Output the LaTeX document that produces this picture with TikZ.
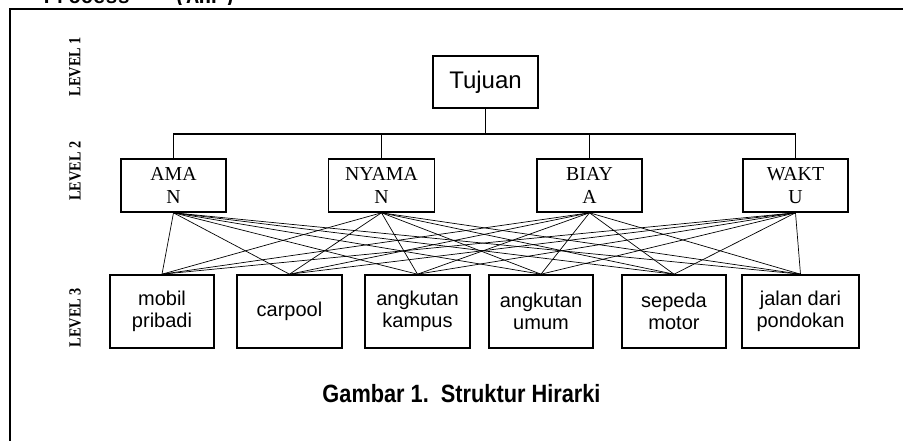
\documentclass[tikz,border=0pt]{standalone}
\usepackage{fontspec}
\setmainfont{Liberation Serif}
\newfontfamily\arialf{Liberation Sans}
\newfontfamily\monof{Liberation Mono}
\begin{document}
\begin{tikzpicture}[x=1pt,y=-1pt,
  l1box/.style={draw,line width=1.6pt,inner sep=0pt,minimum width=105pt,minimum height=52pt,
    font=\arialf\fontsize{24}{26}\selectfont},
  l2box/.style={draw,line width=1.6pt,inner sep=0pt,minimum width=105pt,minimum height=53pt,align=center,
    font=\fontsize{19.8}{22.5}\selectfont},
  l3box/.style={draw,line width=1.6pt,inner sep=0pt,minimum width=104pt,minimum height=73pt,align=center,
    font=\arialf\fontsize{20}{22}\selectfont},
  lvl/.style={rotate=90,inner sep=0pt,font=\bfseries\fontsize{17}{17}\selectfont},
  bus/.style={line width=1.2pt},
  link/.style={line width=0.7pt}]
\useasboundingbox (0,0) rectangle (903,441);
% cropped heading fragment
\begin{scope}
\clip (-5,-5) rectangle (910,4.5);
\node[anchor=base,inner sep=0pt,font=\monof\bfseries\fontsize{20.5}{20}\selectfont] (hd1) at (-3,3.8) {)};
\node[anchor=base,inner sep=0pt,font=\monof\bfseries\fontsize{20.5}{20}\selectfont] (hd2) at (87,3.8) {Process};
\node[anchor=base,inner sep=0pt,font=\monof\bfseries\fontsize{20.5}{20}\selectfont] (hd3) at (205,3.8) {(AHP)};
\end{scope}
% frame
\draw[line width=2.2pt] (10,450) -- (10,9) -- (915,9);
% level labels
\node[lvl] (lv1) at (75,66.5) {\scalebox{0.84}[1]{LEVEL 1}};
\node[lvl] (lv2) at (75,171) {\scalebox{0.84}[1]{LEVEL 2}};
\node[lvl] (lv3) at (75,317.5) {\scalebox{0.84}[1]{LEVEL 3}};
% level 1
\node[l1box] (tuj) at (485.5,82) {Tujuan};
% level 2
\node[l2box] (aman) at (173.5,185.5) {AMA\\N};
\node[l2box,minimum width=106pt] (nyaman) at (381.5,185.5) {NYAMA\\N};
\node[l2box] (biaya) at (589.5,185.5) {BIAY\\A};
\node[l2box] (waktu) at (795.5,185.5) {WAKT\\U};
% bus
\coordinate (bus) at (485.5,134);
\draw[bus] (tuj.south) -- (bus);
\foreach \n in {aman,nyaman,biaya,waktu}{\draw[bus] (\n.north) |- (bus);}
% level 3
\node[l3box] (mobil) at (162,311.5) {mobil\\pribadi};
\node[l3box,minimum width=105pt] (carpool) at (289.5,311.5) {carpool};
\node[l3box,minimum width=105pt] (kampus) at (417.5,311.5) {angkutan\\kampus};
\node[l3box] (umum) at (541,311.5) {angkutan\\umum};
\node[l3box] (sepeda) at (674,311.5) {sepeda\\motor};
\node[l3box,minimum width=117pt] (jalan) at (800.5,311.5) {jalan dari\\pondokan};
% links
\foreach \a in {aman,nyaman,biaya,waktu}{
  \foreach \b in {mobil,carpool,kampus,umum,sepeda,jalan}{
    \draw[link] (\a.south) -- (\b.north);
  }
}
% caption
\node[anchor=base,inner sep=0pt,font=\arialf\bfseries\fontsize{25}{25}\selectfont] (cap) at (461.5,402)
  {\scalebox{0.87}[1]{Gambar 1.\ \ Struktur Hirarki}};
\end{tikzpicture}
\end{document}
